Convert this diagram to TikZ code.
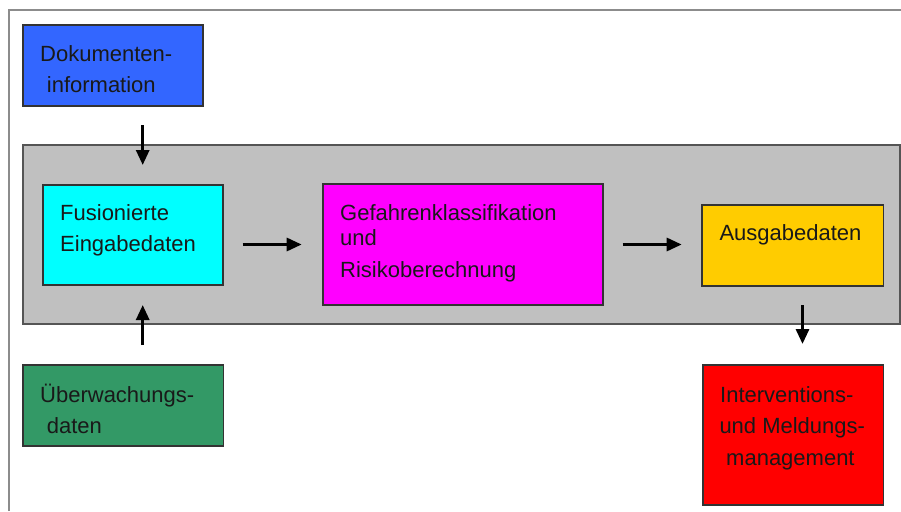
\documentclass[tikz,border=0pt]{standalone}
\usepackage{fontspec}
\setmainfont{Liberation Sans}
\usetikzlibrary{arrows.meta}
\definecolor{docblue}{HTML}{3366FF}
\definecolor{fuscyan}{HTML}{00FFFF}
\definecolor{riskmag}{HTML}{FF00FF}
\definecolor{outyellow}{HTML}{FFCC00}
\definecolor{monigreen}{HTML}{339966}
\definecolor{alertred}{HTML}{FF0000}
\definecolor{bandgray}{HTML}{C0C0C0}
\definecolor{bandline}{HTML}{555555}
\definecolor{framegray}{HTML}{8C8C8C}
\begin{document}
\begin{tikzpicture}[x=1pt,y=-1pt,
  box/.style={draw=black!80, line width=1.6pt, inner sep=0pt, outer sep=0pt, anchor=north west},
  lbl/.style={anchor=base west, inner sep=0pt, text=black!90, font=\fontsize{22}{26}\selectfont},
  arr/.style={line width=3pt, -{Triangle[length=15pt,width=13pt]}}]
\fill[white] (0,0) rectangle (901,511);
\useasboundingbox (0,0) rectangle (901,511);

% open page frame (top and left edges only)
\draw[framegray, line width=2pt] (9,511) -- (9,10) -- (901,10);

% processing band
\node[box, draw=bandline, line width=1.6pt, fill=bandgray, minimum width=877pt, minimum height=179pt] (band) at (23,145) {};

% boxes
\node[box, fill=docblue,   minimum width=180pt,   minimum height=80.7pt] (doc) at (22.7,25) {};
\node[box, fill=fuscyan,   minimum width=180.3pt, minimum height=100pt]  (fus) at (42.7,185) {};
\node[box, fill=riskmag,   minimum width=280pt,   minimum height=121pt]  (mag) at (322.7,184) {};
\node[box, fill=outyellow, minimum width=181.6pt, minimum height=80.7pt] (aus) at (701.7,205) {};
\node[box, fill=monigreen, minimum width=200.6pt, minimum height=80.7pt] (ueb) at (22.7,365) {};
\node[box, fill=alertred,  minimum width=180.6pt, minimum height=140pt]  (int) at (702.7,365) {};

% labels
\node[lbl] (docA) at (40,61)   {Dokumenten-};
\node[lbl] (docB) at (46.7,92) {information};
\node[lbl] (fusA) at (60,220)  {Fusionierte};
\node[lbl] (fusB) at (60,251)  {Eingabedaten};
\node[lbl] (magA) at (340,220) {Gefahrenklassifikation};
\node[lbl] (magB) at (340,245) {und};
\node[lbl] (magC) at (340,277) {Risikoberechnung};
\node[lbl] (ausA) at (719.3,240) {Ausgabedaten};
\node[lbl] (uebA) at (40,402)   {Überwachungs-};
\node[lbl] (uebB) at (46.7,433) {daten};
\node[lbl] (intA) at (720,402)   {Interventions-};
\node[lbl] (intB) at (719.3,433) {und Meldungs-};
\node[lbl] (intC) at (726,465)   {management};

% connectors
\draw[arr, shorten <=19.3pt, shorten >=20pt] ([xshift=30pt]doc.south) -- ([xshift=30pt]doc.south |- fus.north);
\draw[arr, shorten <=20pt, shorten >=20pt] ([xshift=19.7pt]ueb.north) -- ([xshift=19.7pt]ueb.north |- fus.south);
\draw[arr, shorten <=19.7pt, shorten >=21pt] (fus.east |- mag.west) -- (mag.west);
\draw[arr, shorten <=20pt, shorten >=20pt] (mag.east) -- (mag.east -| aus.west);
\draw[arr, shorten <=19.3pt, shorten >=21pt] ([xshift=10pt]aus.south) -- ([xshift=10pt]aus.south |- int.north);
\end{tikzpicture}
\end{document}
